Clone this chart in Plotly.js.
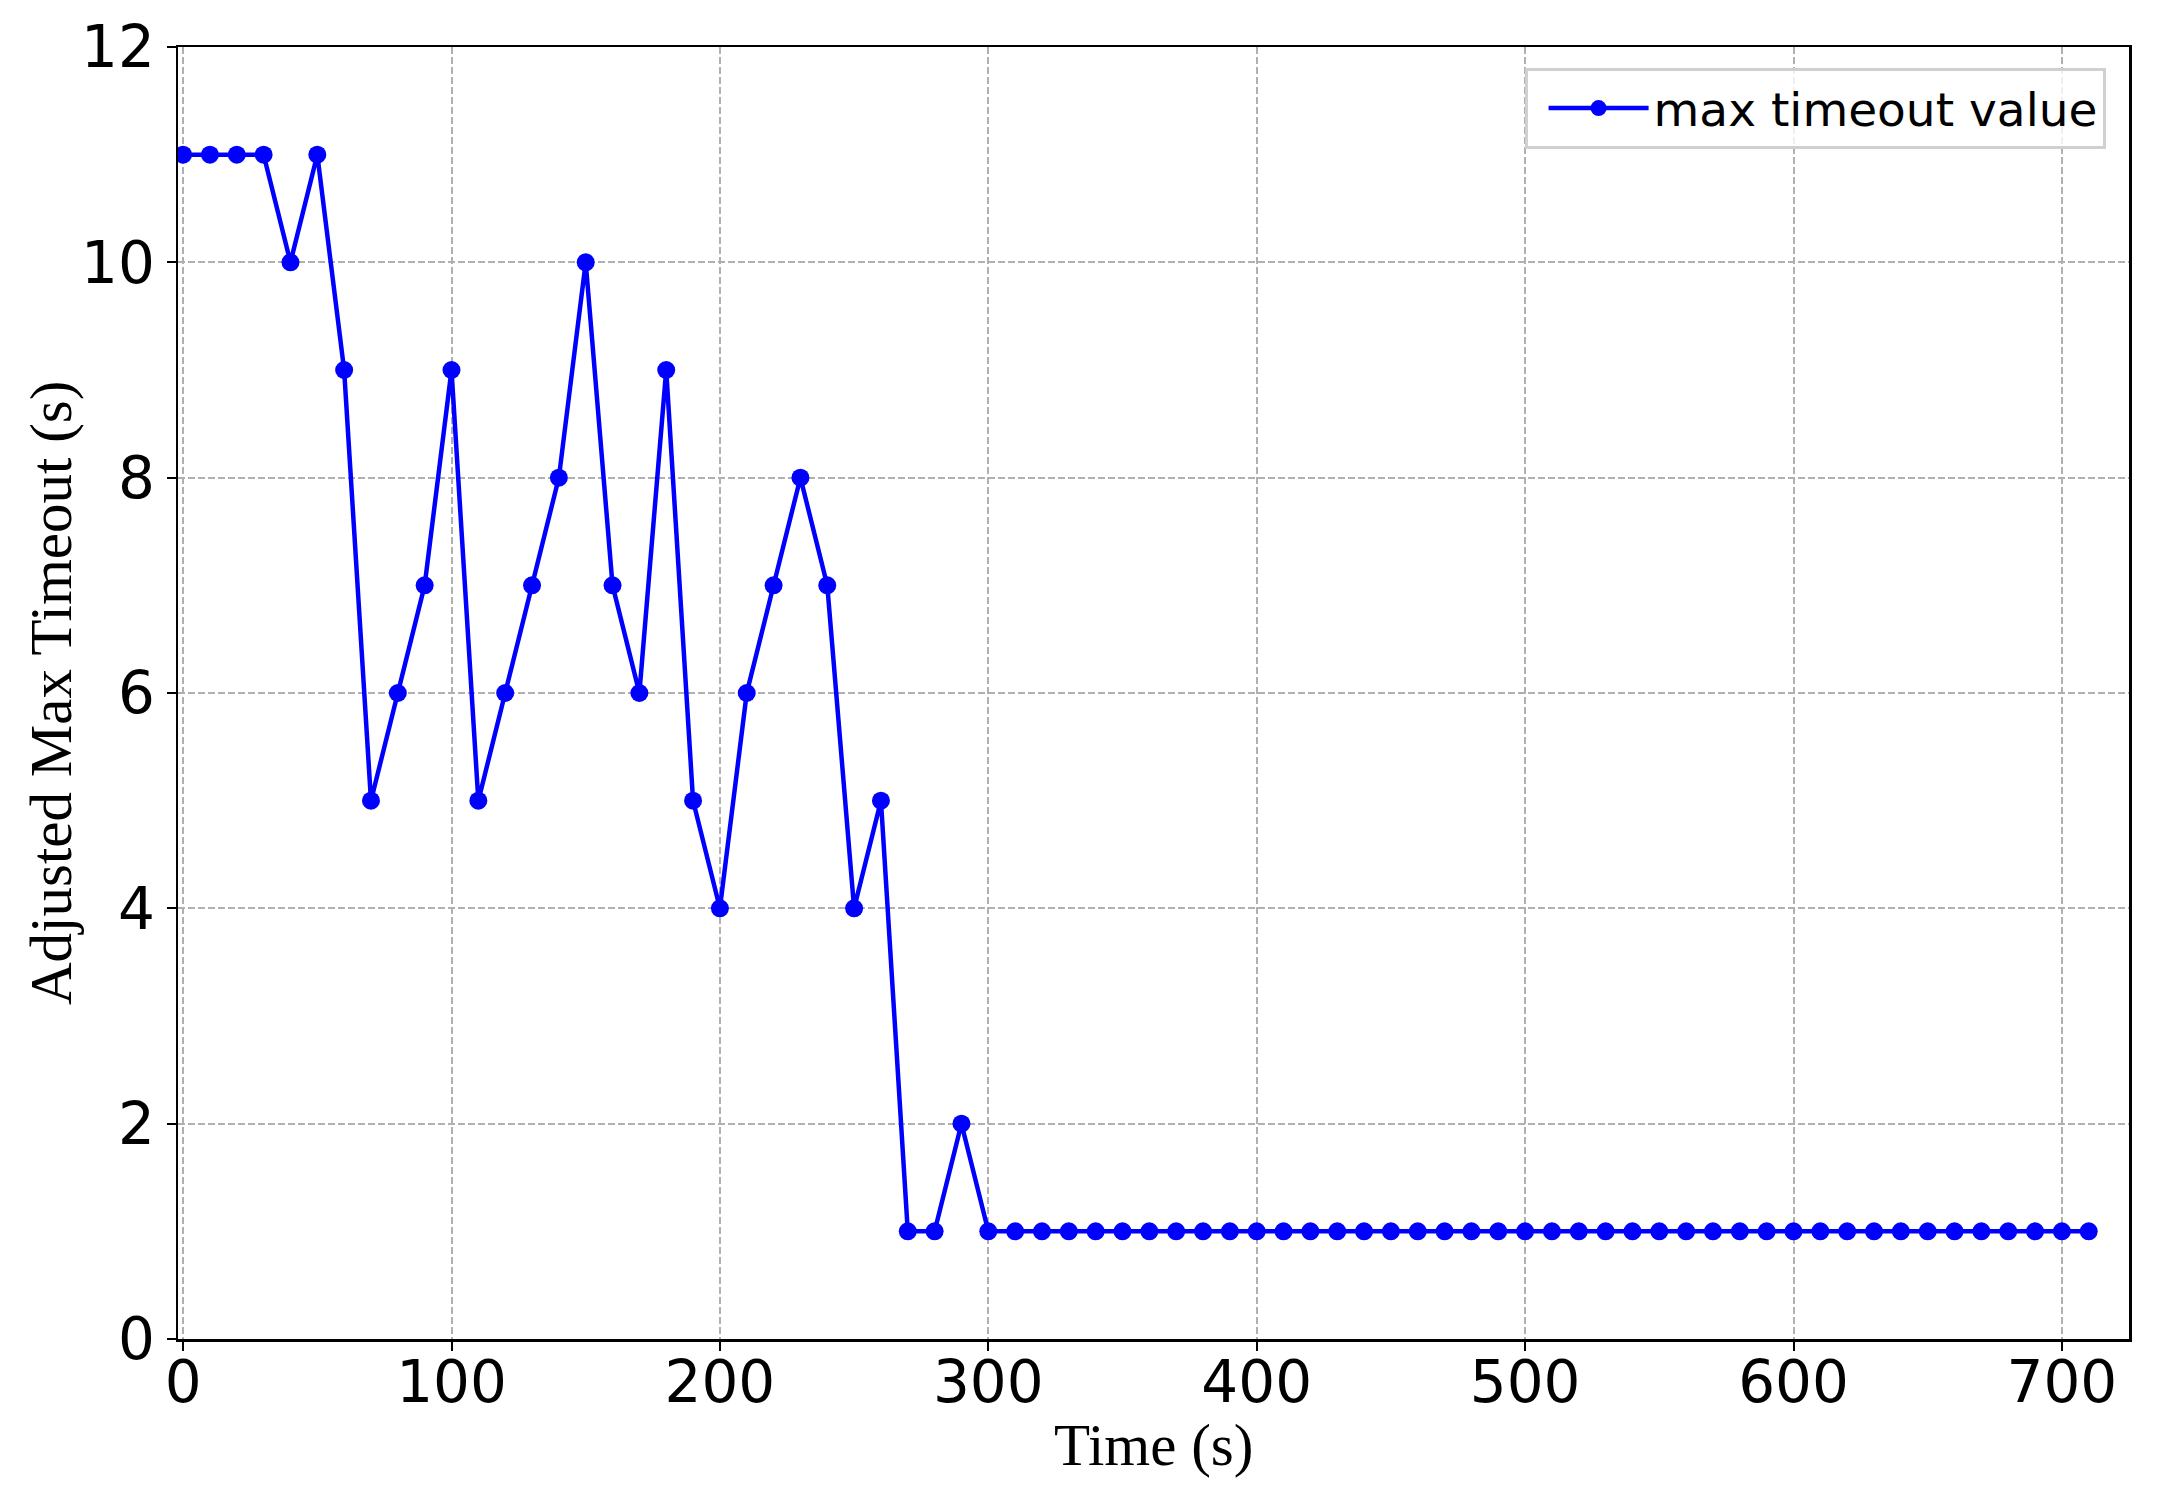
<!DOCTYPE html>
<html>
<head>
<meta charset="utf-8">
<script src="https://cdn.plot.ly/plotly-3.0.1.min.js"></script>
<style>
  html, body { margin: 0; padding: 0; background: #fff; }
  #chart { width: 2161px; height: 1495px; }
</style>
</head>
<body>
<div id="chart"></div>
<script>
// time axis (s), one sample every 10 s
const timeSec = [
    0, 10, 20, 30, 40, 50, 60, 70, 80, 90,
    100, 110, 120, 130, 140, 150, 160, 170, 180, 190,
    200, 210, 220, 230, 240, 250, 260, 270, 280, 290,
    300, 310, 320, 330, 340, 350, 360, 370, 380, 390,
    400, 410, 420, 430, 440, 450, 460, 470, 480, 490,
    500, 510, 520, 530, 540, 550, 560, 570, 580, 590,
    600, 610, 620, 630, 640, 650, 660, 670, 680, 690,
    700, 710
];

// adjusted max timeout (s)
const maxTimeout = [
    11, 11, 11, 11, 10, 11, 9, 5, 6, 7,
    9, 5, 6, 7, 8, 10, 7, 6, 9, 5,
    4, 6, 7, 8, 7, 4, 5, 1, 1, 2,
    1, 1, 1, 1, 1, 1, 1, 1, 1, 1,
    1, 1, 1, 1, 1, 1, 1, 1, 1, 1,
    1, 1, 1, 1, 1, 1, 1, 1, 1, 1,
    1, 1, 1, 1, 1, 1, 1, 1, 1, 1,
    1, 1
];

const seriesName = 'max timeout value';
const xTitle = 'Time (s)';
const yTitle = 'Adjusted Max Timeout (s)';
const xTicks = [0, 100, 200, 300, 400, 500, 600, 700];
const yTicks = [0, 2, 4, 6, 8, 10, 12];

const trace = {
    x: timeSec,
    y: maxTimeout,
    name: seriesName,
    type: 'scatter',
    mode: 'lines+markers',
    line: { color: '#0000ff', width: 4.5 },
    marker: { color: '#0000ff', size: 18 },
    showlegend: true
};

// shared axis look (matplotlib-ish box + dashed grid)
const axisBase = {
    showline: true,
    mirror: true,
    linecolor: '#000',
    linewidth: 2.5,
    ticks: 'outside',
    ticklen: 9,
    tickwidth: 2,
    tickcolor: '#000',
    showgrid: true,
    gridcolor: '#b0b0b0',
    gridwidth: 2,
    griddash: '7px,3px',
    zeroline: false,
    tickfont: { family: 'DejaVu Sans', size: 58, color: '#000' }
};

const titleFont = { family: 'Liberation Serif', size: 59, color: '#000' };

const layout = {
    width: 2161,
    height: 1495,
    margin: { l: 178, r: 32, t: 47, b: 156 },
    paper_bgcolor: '#fff',
    plot_bgcolor: '#fff',
    xaxis: Object.assign({}, axisBase, {
        range: [-1.9, 725],
        tickmode: 'array',
        tickvals: xTicks,
        ticklabelstandoff: -18
    }),
    yaxis: Object.assign({}, axisBase, {
        range: [0, 12],
        tickmode: 'array',
        tickvals: yTicks
    }),
    // axis titles placed as annotations so they can sit closer than standoff allows
    annotations: [
        {
            text: xTitle, xref: 'paper', yref: 'paper', x: 0.5, y: 0,
            xanchor: 'center', yanchor: 'middle', yshift: -106,
            showarrow: false, font: titleFont
        },
        {
            text: yTitle, xref: 'paper', yref: 'paper', x: 0, y: 0.5,
            xanchor: 'center', yanchor: 'middle', xshift: -127, textangle: -90,
            showarrow: false, font: titleFont
        }
    ],
    legend: {
        x: 0.988,
        y: 0.9837,
        xanchor: 'right',
        yanchor: 'top',
        bgcolor: 'rgba(255,255,255,0.8)',
        bordercolor: '#d0d0d0',
        borderwidth: 3,
        font: { family: 'DejaVu Sans', size: 47, color: '#000' },
        itemwidth: 100,
        indentation: 16
    },
    showlegend: true
};

Plotly.newPlot('chart', [trace], layout, { staticPlot: true, displayModeBar: false });
</script>
</body>
</html>
